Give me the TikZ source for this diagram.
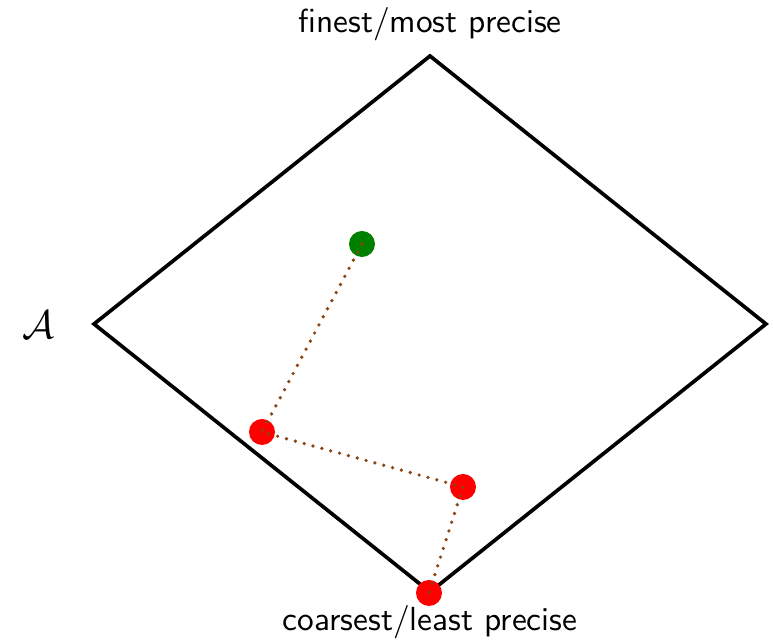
\documentclass[tikz,border=0pt]{standalone}
\usepackage{xcolor}
\definecolor{dotbrown}{RGB}{139,69,19}
\definecolor{dkgreen}{RGB}{0,128,0}
\begin{document}
\begin{tikzpicture}[x=0.3pt,y=-0.3pt,
  lbl/.style={font=\sffamily, inner sep=0pt},
  pt/.style={circle, inner sep=0pt, minimum size=7.8pt},
  trail/.style={draw=dotbrown, line width=1.1pt, line cap=round, dash pattern=on 0pt off 2.75pt}]
\useasboundingbox (0,0) rectangle (773,641);
\coordinate (T) at (430,56);
\coordinate (L) at (94,324);
\coordinate (R) at (766,324);
\coordinate (B) at (430,592);
\draw[line width=1.1pt, line join=miter] (T) -- (R) -- (B) -- (L) -- cycle;
\node[pt, fill=dkgreen] (g) at (362,244) {};
\node[pt, fill=red] (r1) at (262,432) {};
\node[pt, fill=red] (r2) at (463,487) {};
\node[pt, fill=red] (r3) at (429,593) {};
\draw[trail] (g.center) -- (r1.center) -- (r2.center) -- (r3.center);
\node[lbl] (top) at (430,24) {finest/most precise};
\node[lbl] (bot) at (430,622) {coarsest/least precise};
\node[inner sep=0pt] (A) at (38,325) {\large$\mathcal{A}$};
\end{tikzpicture}
\end{document}
